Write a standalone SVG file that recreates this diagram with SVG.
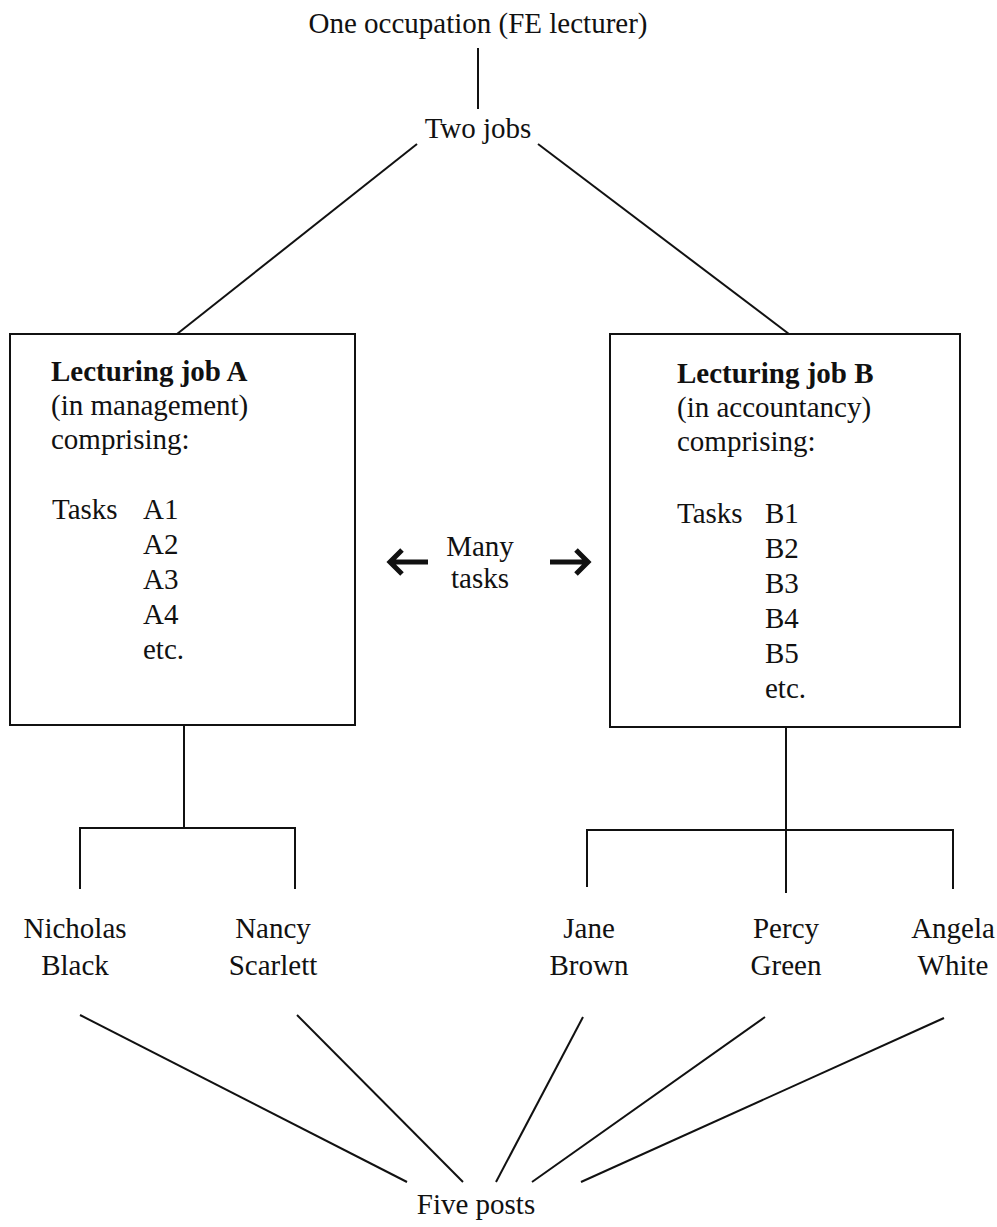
<svg xmlns="http://www.w3.org/2000/svg" width="997" height="1227" viewBox="0 0 997 1227">
<style>
text{font-family:"Liberation Serif","Times New Roman",serif;font-size:29px;fill:#111}
.c{text-anchor:middle}
.b{font-weight:bold}
.ln{stroke:#111;stroke-width:2;fill:none}
.box{stroke:#111;stroke-width:2;fill:#fff}
.arr{stroke:#111;stroke-width:5;fill:none;stroke-linecap:butt;stroke-linejoin:miter}
</style>
<rect width="997" height="1227" fill="#fff"/>
<g id="connectors">
<line class="ln" x1="478" y1="48" x2="478" y2="109"/>
<line class="ln" x1="417" y1="144" x2="177" y2="334"/>
<line class="ln" x1="538" y1="144" x2="789" y2="334"/>
<line class="ln" x1="184" y1="725" x2="184" y2="828"/>
<polyline class="ln" points="80,889 80,828 295,828 295,889"/>
<line class="ln" x1="786" y1="727" x2="786" y2="893"/>
<polyline class="ln" points="587,887 587,830 953,830 953,889"/>
<line class="ln" x1="80" y1="1015" x2="407" y2="1182"/>
<line class="ln" x1="297" y1="1015" x2="463" y2="1182"/>
<line class="ln" x1="583" y1="1017" x2="496" y2="1182"/>
<line class="ln" x1="765" y1="1017" x2="532" y2="1182"/>
<line class="ln" x1="944" y1="1018" x2="581" y2="1182"/>
<path class="arr" d="M390 562 H428 M402 550 L390 562 L402 574"/>
<path class="arr" d="M550 562 H588 M576 550 L588 562 L576 574"/>
</g>
<g id="occupation"><text class="c" x="478" y="33">One occupation (FE lecturer)</text></g>
<g id="two-jobs"><text class="c" x="478" y="138">Two jobs</text></g>
<g id="job-a">
<rect class="box" x="10" y="334" width="345" height="391"/>
<text class="b" x="51" y="381">Lecturing job A</text>
<text x="51" y="415">(in management)</text>
<text x="51" y="449">comprising:</text>
<text x="52" y="519">Tasks</text>
<text x="143" y="519">A1</text>
<text x="143" y="554">A2</text>
<text x="143" y="589">A3</text>
<text x="143" y="624">A4</text>
<text x="143" y="659">etc.</text>
</g>
<g id="job-b">
<rect class="box" x="610" y="334" width="350" height="393"/>
<text class="b" x="677" y="383">Lecturing job B</text>
<text x="677" y="417">(in accountancy)</text>
<text x="677" y="451">comprising:</text>
<text x="677" y="523">Tasks</text>
<text x="765" y="523">B1</text>
<text x="765" y="558">B2</text>
<text x="765" y="593">B3</text>
<text x="765" y="628">B4</text>
<text x="765" y="663">B5</text>
<text x="765" y="698">etc.</text>
</g>
<g id="many-tasks">
<text class="c" x="480" y="556">Many</text>
<text class="c" x="480" y="588">tasks</text>
</g>
<g id="nicholas-black"><text class="c" x="75" y="938">Nicholas</text><text class="c" x="75" y="975">Black</text></g>
<g id="nancy-scarlett"><text class="c" x="273" y="938">Nancy</text><text class="c" x="273" y="975">Scarlett</text></g>
<g id="jane-brown"><text class="c" x="589" y="938">Jane</text><text class="c" x="589" y="975">Brown</text></g>
<g id="percy-green"><text class="c" x="786" y="938">Percy</text><text class="c" x="786" y="975">Green</text></g>
<g id="angela-white"><text class="c" x="953" y="938">Angela</text><text class="c" x="953" y="975">White</text></g>
<g id="five-posts"><text class="c" x="476" y="1214">Five posts</text></g>
</svg>
